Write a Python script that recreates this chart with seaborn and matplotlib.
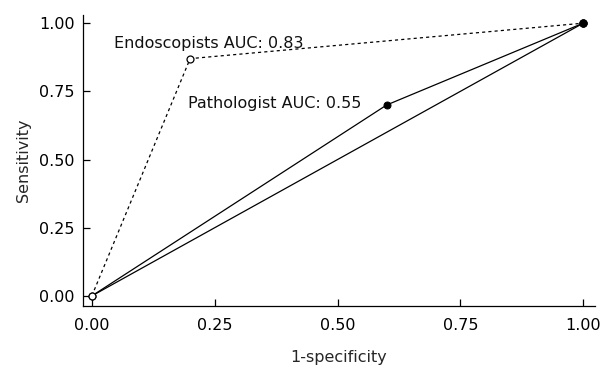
import matplotlib
matplotlib.use("Agg")
import matplotlib.pyplot as plt
import seaborn as sns
import pandas as pd

# Data
endo_fpr = [0.0, 0.2, 1.0]
endo_tpr = [0.0, 0.87, 1.0]
path_fpr = [0.0, 0.6, 1.0]
path_tpr = [0.0, 0.7, 1.0]
ref_fpr = [0.0, 1.0]
ref_tpr = [0.0, 1.0]
endo_label = "Endoscopists AUC: 0.83"
path_label = "Pathologist AUC: 0.55"
ticks = [0.0, 0.25, 0.5, 0.75, 1.0]
tick_labels = ["0.00", "0.25", "0.50", "0.75", "1.00"]

sns.set_theme(style="ticks")
plt.rcParams['font.family'] = ['DejaVu Sans']
FS = 11.5

fig = plt.figure(figsize=(6.03, 3.71), dpi=100)
ax = fig.add_axes([83/603, 1-306/371, (595-83)/603, (306-15)/371])

endo = pd.DataFrame({"x": endo_fpr, "y": endo_tpr})
path = pd.DataFrame({"x": path_fpr, "y": path_tpr})
ref = pd.DataFrame({"x": ref_fpr, "y": ref_tpr})

sns.lineplot(data=ref, x="x", y="y", sort=False, color="black", lw=0.9, ax=ax)
sns.lineplot(data=path, x="x", y="y", sort=False, color="black", lw=0.9,
             marker="o", markersize=5, markerfacecolor="black",
             markeredgecolor="black", ax=ax)
sns.lineplot(data=endo, x="x", y="y", sort=False, color="black", lw=0.9,
             linestyle=(0, (2.5, 2.5)), marker="o", markersize=5,
             markerfacecolor="white", markeredgecolor="black",
             markeredgewidth=0.9, ax=ax)
# redraw the filled top-right point on top
ax.plot([path_fpr[-1]], [path_tpr[-1]], "o", ms=5, color="black", zorder=5)

ax.text(0.045, 0.908, endo_label, fontsize=FS, ha="left", va="baseline", color="#111111")
ax.text(0.196, 0.689, path_label, fontsize=FS, ha="left", va="baseline", color="#111111")

ax.set_xlim(-0.018, 1.024)
ax.set_ylim(-0.037, 1.03)
ax.set_xticks(ticks)
ax.set_xticklabels(tick_labels)
ax.set_yticks(ticks)
ax.set_yticklabels(tick_labels)
ax.tick_params(direction="in", length=5, width=0.9, labelsize=FS, colors="black", pad=6)
ax.tick_params(axis="x", pad=9)
ax.set_xlabel("1-specificity", fontsize=FS, labelpad=12)
ax.set_ylabel("Sensitivity", fontsize=FS, labelpad=6)
for s in ["top", "right"]:
    ax.spines[s].set_visible(False)
for s in ["left", "bottom"]:
    ax.spines[s].set_linewidth(0.9)
    ax.spines[s].set_color("black")

fig.savefig("out.png", dpi=100)
